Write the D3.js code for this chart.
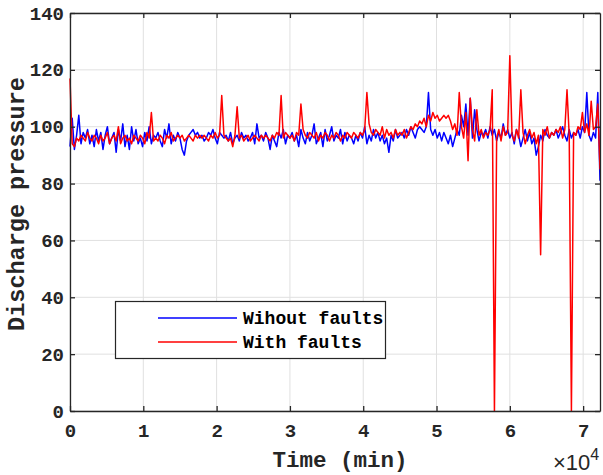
<!DOCTYPE html>
<html><head><meta charset="utf-8">
<script src="https://cdn.jsdelivr.net/npm/d3@7"></script>
<style>body{margin:0;background:#fff}svg{display:block}</style>
</head><body>
<svg id="c" width="603" height="475"></svg>
<script>
const timeStep = 300; // minutes between samples
const xTicks = [0,1,2,3,4,5,6,7];
const yTicks = [0,20,40,60,80,100,120,140];
const seriesNames = ["Wihout faults","With faults"];
const seriesColors = ["#0000ff","#ff0000"];
const withoutFaults = [
93,103,92,97,104,94,98,96,99,94,
97,93,99,95,98,92,97,100,94,96,
98,91,99,95,101,93,97,92,100,95,
99,94,96,93,98,95,100,94,97,96,
98,95,93,99,96,101,94,97,95,98,
96,92,90,95,97,98,99,97,98,96,
97,95,96,98,97,99,96,94,98,97,
96,97,95,98,94,96,97,95,98,96,
97,95,96,98,94,101,96,97,95,98,
96,92,97,95,93,98,96,99,94,97,
96,98,95,97,93,99,96,94,98,95,
97,101,94,96,98,93,99,95,97,100,
95,97,96,99,94,98,95,97,96,94,
97,95,98,96,100,94,97,95,99,96,
98,95,97,94,96,91,97,95,99,96,
97,98,96,99,97,100,98,96,99,100,
99,98,100,112,99,97,99,96,98,95,
98,96,94,97,93,96,99,97,104,100,
108,97,110,96,106,99,95,98,97,99,
96,100,97,99,95,98,96,101,97,99,
96,98,94,99,97,93,96,99,95,98,
94,96,90,93,97,95,99,97,96,98,
97,99,96,98,100,97,95,99,96,98,
97,99,96,100,98,112,97,95,98,96,
112,81];
const withFaults = [
117,94,93,96,95,97,96,95,98,96,
95,97,96,94,97,95,96,98,94,96,
97,95,100,94,96,97,95,96,94,97,
96,95,97,96,94,98,96,105,95,96,
95,97,96,94,97,96,98,95,96,97,
96,97,95,96,97,96,95,97,96,97,
96,97,96,95,97,96,98,96,97,111,
97,96,95,96,93,97,107,96,97,95,
96,97,95,96,97,96,95,97,96,97,
96,95,97,96,98,97,111,96,98,97,
96,97,95,98,97,108,99,97,96,98,
97,96,98,95,97,96,98,97,95,97,
96,98,97,95,97,96,98,97,96,98,
97,96,98,97,99,112,101,98,97,99,
98,97,100,96,99,97,98,96,99,97,
98,97,99,96,98,100,99,101,100,102,
101,103,100,104,102,105,103,104,102,103,
104,103,104,102,99,101,97,112,100,96,
105,88,110,99,95,106,97,99,96,98,
97,99,113,0,96,99,95,100,97,98,
125,97,95,99,96,113,98,94,97,99,
96,98,94,97,55,99,97,100,96,98,
97,99,98,100,96,99,113,97,0,98,
97,100,99,105,98,101,97,109,99,100,
108,85];

const svg = d3.select("#c");
const L = 70, R = 600, T = 13, B = 411;
const x = d3.scaleLinear().domain([0, 72300]).range([L, R]);
const y = d3.scaleLinear().domain([0, 140]).range([B, T]);
const mono = "'Liberation Mono','Courier New',monospace";

// grid
const g = svg.append("g");
g.selectAll(".vg").data(xTicks).enter().append("line")
  .attr("x1", d => x(d*1e4)).attr("x2", d => x(d*1e4)).attr("y1", T).attr("y2", B)
  .attr("stroke", "#e0e0e0").attr("stroke-width", 1);
g.selectAll(".hg").data(yTicks).enter().append("line")
  .attr("y1", d => y(d)).attr("y2", d => y(d)).attr("x1", L).attr("x2", R)
  .attr("stroke", "#e0e0e0").attr("stroke-width", 1);

// lines
const line = d3.line().x((d,i) => x(i*timeStep)).y(d => y(d));
const plotG = svg.append("g");
[withoutFaults, withFaults].forEach((s, k) => {
  plotG.append("path").datum(s).attr("d", line).attr("fill", "none")
    .attr("stroke", seriesColors[k]).attr("stroke-width", 1.5).attr("stroke-linejoin", "round");
});

// axes
const tickFmt = d3.format("d");
const xAxis = svg.append("g").attr("transform", `translate(0,${B})`)
  .call(d3.axisBottom(x).tickValues(xTicks.map(d=>d*1e4)).tickFormat(d => tickFmt(d/1e4)).tickSizeInner(-5).tickSizeOuter(0).tickPadding(13));
const yAxis = svg.append("g").attr("transform", `translate(${L},0)`)
  .call(d3.axisLeft(y).tickValues(yTicks).tickSizeInner(-5).tickSizeOuter(0).tickPadding(6));
const xTop = svg.append("g").attr("transform", `translate(0,${T})`)
  .call(d3.axisTop(x).tickValues(xTicks.map(d=>d*1e4)).tickFormat("").tickSizeInner(-5).tickSizeOuter(0));
const yRight = svg.append("g").attr("transform", `translate(${R},0)`)
  .call(d3.axisRight(y).tickValues(yTicks).tickFormat("").tickSizeInner(-5).tickSizeOuter(0));
[xAxis, yAxis, xTop, yRight].forEach(a => {
  a.select(".domain").attr("stroke", "#262626").attr("stroke-width", 1.3);
  a.selectAll(".tick line").attr("stroke", "#262626").attr("stroke-width", 1.3);
  a.selectAll(".tick text").attr("fill", "#262626").attr("font-family", mono)
    .attr("font-weight", "bold").attr("font-size", 19);
});

// axis labels
svg.append("text").attr("x", (L+R)/2 + 5).attr("y", 467).attr("text-anchor", "middle")
  .attr("font-family", mono).attr("font-weight", "bold").attr("font-size", 22.5).attr("fill", "#262626")
  .text("Time (min)");
svg.append("text").attr("transform", `translate(24,${(T+B)/2 - 8}) rotate(-90)`).attr("text-anchor", "middle")
  .attr("font-family", mono).attr("font-weight", "bold").attr("font-size", 23.5).attr("fill", "#262626")
  .text("Discharge pressure");
const ex = svg.append("text").attr("x", 553).attr("y", 470).attr("font-family", "'Liberation Sans',Arial,sans-serif")
  .attr("font-size", 22).attr("fill", "#262626");
ex.append("tspan").text("\u00d710");
ex.append("tspan").attr("dy", -10).attr("font-size", 16).text("4");

// legend
const lg = svg.append("g");
lg.append("rect").attr("x", 115.5).attr("y", 301.5).attr("width", 270).attr("height", 57)
  .attr("fill", "#fff").attr("stroke", "#262626").attr("stroke-width", 1.2);
seriesNames.forEach((n, k) => {
  const yy = 318 + k*24;
  lg.append("line").attr("x1", 158).attr("x2", 237).attr("y1", yy).attr("y2", yy)
    .attr("stroke", seriesColors[k]).attr("stroke-width", 1.4);
  lg.append("text").attr("x", 243).attr("y", yy + 6).attr("font-family", mono).attr("font-weight", "bold")
    .attr("font-size", 18).attr("fill", "#000").text(n);
});
</script>
</body></html>
